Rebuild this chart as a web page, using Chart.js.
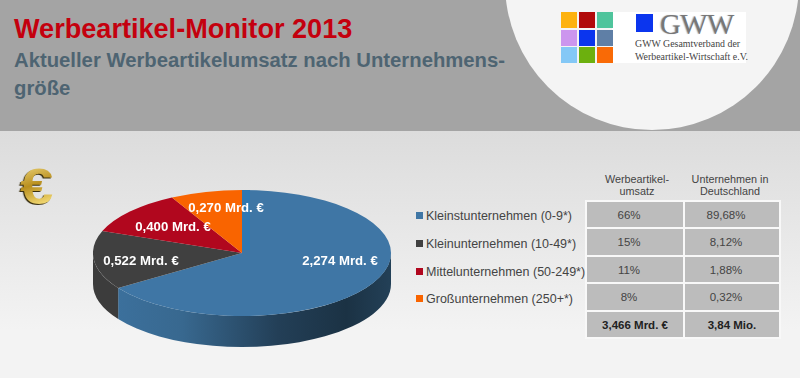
<!DOCTYPE html>
<html lang="de">
<head>
<meta charset="utf-8">
<title>Werbeartikel-Monitor 2013</title>
<script src="https://cdn.jsdelivr.net/npm/chart.js@4"></script>
<style>
    html, body { margin: 0; padding: 0; }
    body {
        position: relative; width: 800px; height: 378px; overflow: hidden;
        font-family: "Liberation Sans", Arial, sans-serif;
        background: linear-gradient(#dcdcdc 132px, #f3f3f3 330px);
    }
    .abs { position: absolute; white-space: nowrap; }
    #header { left: 0; top: 0; width: 800px; height: 131px; background: #a4a4a4; overflow: hidden; }
    #circle { left: 505px; top: -164px; width: 294px; height: 294px; border-radius: 50%; background: #f4f4f4; }
    #title { left: 14px; top: 13px; font-size: 27.1px; line-height: 32px; font-weight: bold; color: #c4000e; }
    #subtitle { left: 14px; top: 46px; font-size: 20.3px; line-height: 28px; font-weight: bold; color: #4e6472; }
    #logoWhite { left: 612px; top: 12px; width: 134px; height: 51px; background: #fff; }
    .square { position: absolute; }
    #gww { left: 660px; top: 10px; font: 29px/28px "Liberation Serif", serif; color: #777; letter-spacing: -.6px; text-shadow: -1px 0 1px #bbb; }
    .gwwLine { left: 635px; font: 9.9px/12px "Liberation Serif", serif; color: #444; }
    #euro {
        left: 20px; top: 162px; font: bold 50px/50px "Liberation Sans", sans-serif;
        transform: scaleX(1.2); transform-origin: left top;
        background: linear-gradient(160deg, #f5e08a, #b98f1e 45%, #f0d670 80%);
        -webkit-background-clip: text; background-clip: text; color: transparent;
        filter: drop-shadow(-1px 1px 0 #3a3010);
    }
    #chartBox { left: 93px; top: 104px; width: 298px; height: 298px; }
    .legendKey { position: absolute; width: 7px; height: 7px; left: 416px; }
    .legendText { left: 426px; font-size: 12.5px; line-height: 16px; color: #444; }
    .cell { position: absolute; display: flex; align-items: center; justify-content: center; background: #bcbcbc; border: 2px solid #f8f8f8; box-sizing: border-box; padding-right: 12px; font-size: 11.5px; color: #444; }
    .cell.total { padding-right: 0; font-weight: bold; color: #222; }
    .head { position: absolute; text-align: center; font-size: 10.8px; line-height: 12px; color: #444; }
</style>
</head>
<body>
<div id="header" class="abs"><div id="circle" class="abs"></div></div>
<div id="title" class="abs">Werbeartikel-Monitor 2013</div>
<div id="subtitle" class="abs">Aktueller Werbeartikelumsatz nach Unternehmens-<br>größe</div>
<div id="logoWhite" class="abs"></div>
<div id="gww" class="abs">GWW</div>
<div class="abs gwwLine" style="top:38px">GWW Gesamtverband der</div>
<div class="abs gwwLine" style="top:51px">Werbeartikel-Wirtschaft e.V.</div>
<div id="euro" class="abs">€</div>
<div id="chartBox" class="abs"><canvas id="pie"></canvas></div>
<div id="side"></div>

<script>
// Daten
const categories = ["Kleinstunternehmen (0-9*)", "Kleinunternehmen (10-49*)", "Mittelunternehmen (50-249*)", "Großunternehmen (250+*)"];
const umsatzMrd = [2.274, 0.522, 0.400, 0.270];
const umsatzAnteil = ["66%", "15%", "11%", "8%"];
const unternehmenAnteil = ["89,68%", "8,12%", "1,88%", "0,32%"];
const summen = ["3,466 Mrd. €", "3,84 Mio."];
const spaltenKoepfe = ["Werbeartikel-<br>umsatz", "Unternehmen in<br>Deutschland"];
const logoFarben = ["#fdb20e", "#b10a0a", "#4fc49c", "#cc96ee", "#0b35ee", "#5f7fa6", "#84c8f6", "#6cb00e", "#f96a06"];

// Farben und Layout
const farben = ["#3f76a5", "#404040", "#b1071e", "#f96400"];
const STAUCHUNG = 63 / 149;
const TIEFE = 31;
const labelPos = [[340, 261], [141, 261], [173, 227], [226, 208]];
const zeilenY = [201, 228, 256, 283, 311, 338];
const spaltenX = [586, 684, 780];

const side = document.querySelector('#side');
function addDiv(className, text, css) {
    const el = document.createElement('div');
    el.className = className;
    el.innerHTML = text;
    el.style.cssText = css;
    side.appendChild(el);
}

// Logo
const logoX = [561, 579, 597], logoY = [12, 30, 47];
logoFarben.forEach((farbe, i) => {
    addDiv('square', '', `left:${logoX[i % 3]}px;top:${logoY[Math.floor(i / 3)]}px;width:16px;height:16px;background:${farbe}`);
});
addDiv('square', '', 'left:636px;top:14px;width:17px;height:18px;background:#0b35ee');

// Legende
const legendY = [216, 244, 272, 299];
categories.forEach((name, i) => {
    addDiv('legendKey', '', `top:${legendY[i] - 4}px;background:${farben[i]}`);
    addDiv('abs legendText', name, `top:${legendY[i] - 8}px`);
});

// Tabelle
spaltenKoepfe.forEach((kopf, s) => {
    addDiv('head', kopf, `left:${spaltenX[s] + (s ? -2 : 2)}px;width:${spaltenX[s + 1] - spaltenX[s]}px;top:173px`);
});
[umsatzAnteil, unternehmenAnteil].forEach((spalte, s) => {
    spalte.concat(summen[s]).forEach((text, z) => {
        const total = z === spalte.length ? ' total' : '';
        addDiv('cell' + total, text, `left:${spaltenX[s] - 1}px;top:${zeilenY[z] - 1}px;width:${spaltenX[s + 1] - spaltenX[s] + 2}px;height:${zeilenY[z + 1] - zeilenY[z] + 2}px`);
    });
});

// Mantel der Torte und Stauchung der Oberseite
const tortePlugin = {
    id: 'torte3d',
    beforeDatasetsDraw(chart) {
        const { ctx } = chart;
        chart.getDatasetMeta(0).data.forEach((arc, i) => {
            const { x, y, outerRadius: r, startAngle, endAngle } = arc;
            const a0 = Math.max(startAngle, 0);
            const a1 = Math.min(endAngle, Math.PI);
            if (a1 <= a0) return;
            ctx.beginPath();
            ctx.ellipse(x, y, r, r * STAUCHUNG, 0, a0, a1);
            ctx.ellipse(x, y + TIEFE, r, r * STAUCHUNG, 0, a1, a0, true);
            ctx.closePath();
            if (i === 0) {
                const grad = ctx.createLinearGradient(x - r, 0, x + r, 0);
                grad.addColorStop(0, '#3d73a1');
                grad.addColorStop(0.3, '#38688f');
                grad.addColorStop(0.62, '#233f57');
                grad.addColorStop(0.85, '#1b3244');
                grad.addColorStop(1, '#234057');
                ctx.fillStyle = grad;
            } else {
                ctx.fillStyle = '#3c3c3c';
            }
            ctx.fill();
        });
    },
    beforeDatasetDraw(chart) {
        const { ctx } = chart;
        const arc = chart.getDatasetMeta(0).data[0];
        ctx.save();
        ctx.translate(arc.x, arc.y);
        ctx.scale(1, STAUCHUNG);
        ctx.translate(-arc.x, -arc.y);
    },
    afterDatasetDraw(chart) {
        chart.ctx.restore();
    },
    afterDraw(chart) {
        const { ctx, canvas } = chart;
        const box = canvas.getBoundingClientRect();
        const arc = chart.getDatasetMeta(0).data[0];
        // heller Streifen an der Schnittkante
        ctx.fillStyle = '#2f78b2';
        ctx.fillRect(arc.x, arc.y - arc.outerRadius * STAUCHUNG, 8, arc.outerRadius * STAUCHUNG - 3);

        ctx.font = 'bold 13.2px "Liberation Sans", sans-serif';
        ctx.fillStyle = '#fff';
        ctx.textAlign = 'center';
        ctx.textBaseline = 'middle';
        umsatzMrd.forEach((wert, i) => {
            const text = wert.toFixed(3).replace('.', ',') + ' Mrd. €';
            ctx.fillText(text, labelPos[i][0] - box.left, labelPos[i][1] - box.top);
        });
    }
};

new Chart(document.getElementById('pie'), {
    type: 'pie',
    data: {
        labels: categories,
        datasets: [{
            data: umsatzMrd,
            backgroundColor: farben,
            borderWidth: 0
        }]
    },
    options: {
        responsive: true,
        maintainAspectRatio: false,
        animation: false,
        layout: { padding: 0 },
        plugins: {
            legend: { display: false },
            tooltip: { enabled: false }
        }
    },
    plugins: [tortePlugin]
});
</script>
</body>
</html>
